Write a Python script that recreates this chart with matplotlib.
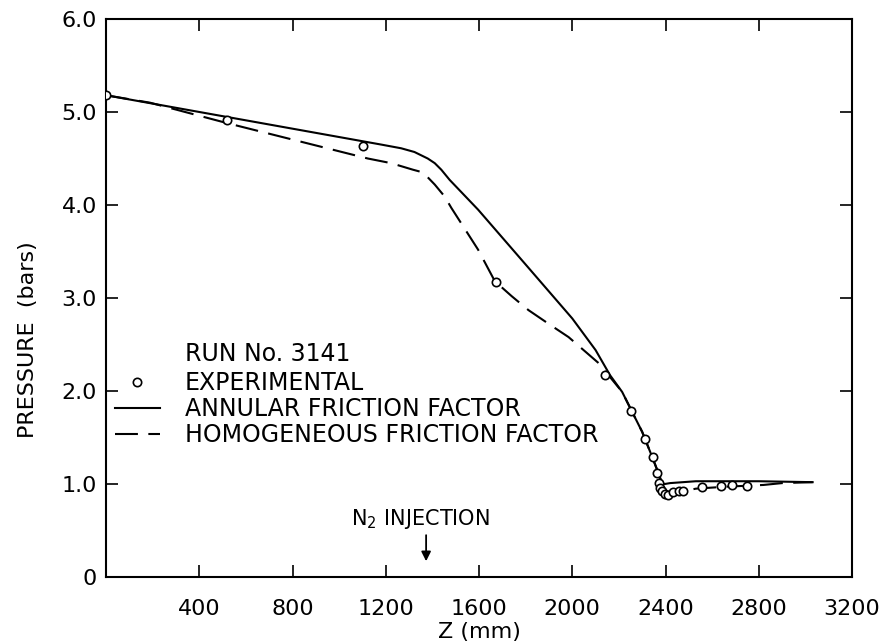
import matplotlib.pyplot as plt

# Run No. 3141 - measured pressures along the test section
z_exp = [0, 521, 1102, 1671, 2139, 2253, 2313, 2345, 2364, 2371, 2377, 2385,
         2396, 2410, 2432, 2458, 2475, 2556, 2640, 2686, 2749]
p_exp = [5.18, 4.91, 4.63, 3.17, 2.17, 1.79, 1.48, 1.29, 1.12, 1.01, 0.96, 0.92,
         0.89, 0.88, 0.91, 0.92, 0.93, 0.97, 0.975, 0.99, 0.975]

# calculated profile, annular friction factor
z_ann = [0, 1180, 1266, 1323, 1380, 1410, 1438, 1474, 1596, 1800, 2000, 2100,
         2162, 2214, 2264, 2300, 2343, 2372, 2386, 2396, 2420, 2530, 2800, 3031]
p_ann = [5.18, 4.65, 4.61, 4.57, 4.50, 4.45, 4.38, 4.27, 3.95, 3.36, 2.78, 2.44,
         2.17, 1.99, 1.74, 1.56, 1.29, 1.10, 1.01, 1.00, 1.01, 1.03, 1.03, 1.02]

# calculated profile, homogeneous friction factor
z_hom = [0, 189, 520, 1123, 1223, 1316, 1360, 1410, 1453, 1481, 1596, 1668,
         1740, 1812, 1900, 1984, 2113, 2214, 2264, 2300, 2343, 2372, 2386, 2400,
         2415, 2450, 2530, 2650, 2820, 2900, 3031]
p_hom = [5.18, 5.10, 4.88, 4.50, 4.45, 4.38, 4.35, 4.22, 4.09, 3.97, 3.52, 3.18,
         3.02, 2.87, 2.72, 2.58, 2.30, 1.99, 1.74, 1.56, 1.29, 1.10, 0.98, 0.90,
         0.88, 0.91, 0.95, 0.97, 0.99, 1.01, 1.02]

x_ticks = [400, 800, 1200, 1600, 2000, 2400, 2800, 3200]
y_ticks = [0, 1, 2, 3, 4, 5, 6]
y_tick_labels = ['0', '1.0', '2.0', '3.0', '4.0', '5.0', '6.0']

injection_z = 1373

fig, ax = plt.subplots(figsize=(8.88, 6.42), dpi=100)
fig.subplots_adjust(left=0.1194, right=0.9595, bottom=0.1012, top=0.9704)

ax.plot(z_exp, p_exp, 'o', mfc='white', mec='black', ms=6, mew=1.2,
        zorder=3, label='EXPERIMENTAL')
ax.plot(z_ann, p_ann, '-', color='black', lw=1.5,
        label='ANNULAR FRICTION FACTOR')
ax.plot(z_hom, p_hom, '--', color='black', lw=1.5, dashes=(11, 5),
        label='HOMOGENEOUS FRICTION FACTOR')

ax.set_xlim(0, 3200)
ax.set_ylim(0, 6)
ax.set_xticks(x_ticks)
ax.set_yticks(y_ticks)
ax.set_yticklabels(y_tick_labels)

ax.tick_params(direction='in', length=8.5, width=1.2, top=True, right=True,
               labelsize=16)
ax.tick_params(axis='x', pad=16)
ax.tick_params(axis='y', pad=6.5)
for sp in ax.spines.values():
    sp.set_linewidth(1.5)

ax.set_xlabel('Z (mm)', fontsize=16)
ax.set_ylabel('PRESSURE  (bars)', fontsize=16)
ax.xaxis.set_label_coords(0.5, -0.099)
ax.xaxis.label.set_va('center')
ax.yaxis.set_label_coords(-0.1046, 0.425)
ax.yaxis.label.set_va('center')

ax.text(0.106, 0.40, 'RUN No. 3141', transform=ax.transAxes, fontsize=17,
        va='center', ha='left')
ax.legend(loc='upper left', bbox_to_anchor=(0.012, 0.369), frameon=False,
          fontsize=17, handlelength=1.9, handletextpad=1.05, labelspacing=0.08,
          borderaxespad=0, borderpad=0, numpoints=1)

# nitrogen injection point
ax.annotate('', xy=(injection_z, 0.14), xytext=(injection_z, 0.48),
            arrowprops=dict(arrowstyle='-|>', color='black', lw=1.3,
                            mutation_scale=14))
ax.text(injection_z - 26, 0.62, 'N$_2$ INJECTION', fontsize=15,
        ha='center', va='center')

fig.savefig('out.png', dpi=100)
